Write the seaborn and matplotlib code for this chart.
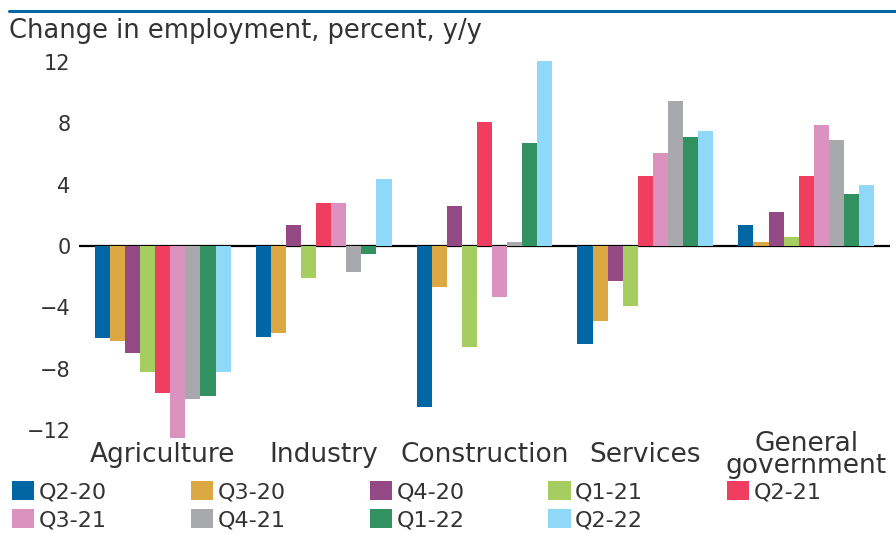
import pandas as pd
import seaborn as sns
import matplotlib.pyplot as plt
from matplotlib.lines import Line2D

# categories and series
sectors = ["Agriculture", "Industry", "Construction", "Services", "General\ngovernment"]
quarters = ["Q2-20", "Q3-20", "Q4-20", "Q1-21", "Q2-21", "Q3-21", "Q4-21", "Q1-22", "Q2-22"]

# change in employment, percent y/y, one value per quarter
agriculture = [-6.0, -6.2, -7.0, -8.2, -9.6, -12.5, -10.0, -9.8, -8.2]
industry = [-5.9, -5.7, 1.4, -2.1, 2.8, 2.8, -1.7, -0.5, 4.4]
construction = [-10.5, -2.7, 2.6, -6.6, 8.1, -3.3, 0.3, 6.7, 12.1]
services = [-6.4, -4.9, -2.3, -3.9, 4.6, 6.1, 9.5, 7.1, 7.5]
government = [1.4, 0.3, 2.2, 0.6, 4.6, 7.9, 6.9, 3.4, 4.0]

yticks = [-12, -8, -4, 0, 4, 8, 12]

colors = ["#0066a4", "#dba844", "#934a84", "#a5cd5f", "#ef3e60",
          "#dc92bf", "#a8a9ad", "#319160", "#8fd8f7"]
text_col = "#333333"

series = [agriculture, industry, construction, services, government]
rows = []
for sector, vals in zip(sectors, series):
    for q, v in zip(quarters, vals):
        rows.append({"sector": sector, "quarter": q, "value": v})
df = pd.DataFrame(rows)

sns.set_style("white")
plt.rcParams["font.family"] = ["DejaVu Sans"]

fig = plt.figure(figsize=(8.96, 5.34), dpi=100)
ax = fig.add_axes([79 / 896, 1 - 443.8 / 534, (890 - 79) / 896, (443.8 - 53) / 534])

ax.axhline(0, color="black", lw=1.6, zorder=0)

sns.barplot(
    data=df,
    x="sector",
    y="value",
    hue="quarter",
    order=sectors,
    hue_order=quarters,
    palette=colors,
    saturation=1,
    width=0.845,
    dodge=True,
    linewidth=0,
    ax=ax,
    zorder=2,
)

ax.set_xlim(-0.52, 4.52)
ax.set_ylim(-12.9, 12.6)
ax.set_yticks(yticks)
ax.set_xlabel("")
ax.set_ylabel("")
sns.despine(ax=ax, left=True, bottom=True)
ax.tick_params(axis="y", length=0, pad=6, labelsize=15, labelcolor=text_col)
ax.tick_params(axis="x", length=0, pad=8, labelsize=19, labelcolor=text_col)
for lab in ax.get_xticklabels():
    lab.set_verticalalignment("center")
    lab.set_linespacing(0.8)
ax.grid(False)

# legend laid out row by row (matplotlib fills columns first)
handles, labels = ax.get_legend_handles_labels()
ax.legend_.remove()
order = [0, 5, 1, 6, 2, 7, 3, 8, 4]
fig.legend(
    [handles[i] for i in order],
    [labels[i] for i in order],
    ncol=5,
    loc="upper left",
    bbox_to_anchor=(12 / 896, 1 - 481 / 534),
    frameon=False,
    fontsize=16,
    handlelength=1.0,
    handleheight=0.95,
    handletextpad=0.2,
    columnspacing=3.78,
    labelspacing=0.3,
    borderpad=0,
    borderaxespad=0,
    labelcolor=text_col,
)

fig.text(9 / 896, 1 - 31 / 534, "Change in employment, percent, y/y",
         fontsize=18.5, color=text_col, va="center", ha="left")
fig.add_artist(Line2D([9 / 896, 1], [1 - 11 / 534, 1 - 11 / 534],
                      transform=fig.transFigure, color="#0066a4", lw=2.2))

fig.savefig("out.png", dpi=100)
